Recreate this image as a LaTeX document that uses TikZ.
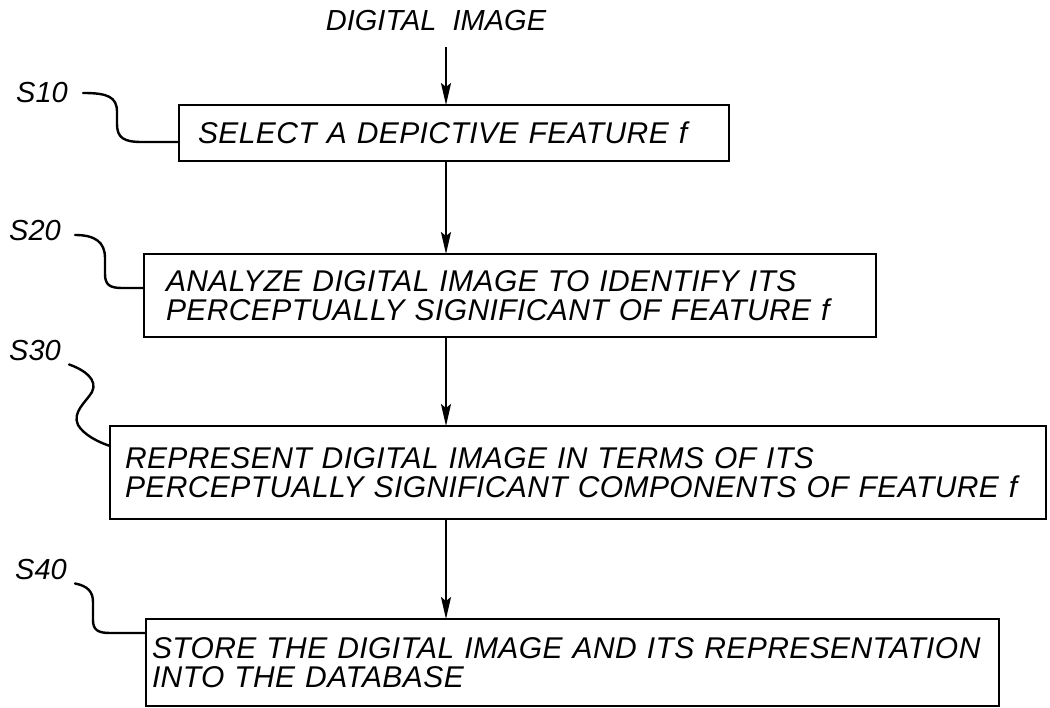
\documentclass[tikz,border=0pt]{standalone}
\usepackage{fontspec}
\setmainfont{Liberation Sans}[WordSpace=2]
\usetikzlibrary{arrows.meta,calc}

\tikzset{
  stepbox/.style={draw, line width=2.2pt, anchor=north west, outer sep=0pt,
    align=left, inner ysep=0pt,
    font={\fontsize{30}{29}\selectfont\itshape\addfontfeatures{LetterSpace=1.4}}},
  tag/.style={inner sep=0pt, font=\itshape\fontsize{29}{29}\selectfont},
  flow/.style={line width=2pt, -{Stealth[length=22pt,width=10pt,inset=4pt]}},
  lead/.style={line width=2.4pt, line cap=round}
}

\begin{document}
\begin{tikzpicture}[x=1pt,y=-1pt]
    \useasboundingbox (0,0) rectangle (1050,708);

    % Input
    \node[tag] (img) at (436,21) {DIGITAL IMAGE};

    % Steps
    \node[stepbox, inner xsep=19pt, text width=512pt, minimum height=56pt] (s10) at (179,105)
        {SELECT A DEPICTIVE FEATURE f};
    \node[stepbox, inner xsep=22pt, text width=688pt, minimum height=83pt] (s20) at (144,254)
        {ANALYZE DIGITAL IMAGE TO IDENTIFY ITS\\PERCEPTUALLY SIGNIFICANT OF FEATURE f};
    \node[stepbox, inner xsep=15pt, text width=906pt, minimum height=93pt] (s30) at (110,426)
        {REPRESENT DIGITAL IMAGE IN TERMS OF ITS\\PERCEPTUALLY SIGNIFICANT COMPONENTS OF FEATURE f};
    \node[stepbox, inner xsep=6pt, text width=841pt, minimum height=87pt] (s40) at (146,619)
        {STORE THE DIGITAL IMAGE AND ITS REPRESENTATION\\INTO THE DATABASE};

    % Step labels
    \node[tag] (l10) at (42,93) {S10};
    \node[tag] (l20) at (35,231) {S20};
    \node[tag] (l30) at (35,351) {S30};
    \node[tag] (l40) at (41,570) {S40};

    % Flow
    \coordinate (spine) at (446,0);
    \draw[flow] ($(img.south -| spine)+(0,16)$) -- (s10.north -| spine);
    \draw[flow] (s10.south -| spine) -- (s20.north -| spine);
    \draw[flow] (s20.south -| spine) -- (s30.north -| spine);
    \draw[flow] (s30.south -| spine) -- (s40.north -| spine);

    % Leaders
    \draw[lead] ([xshift=15pt]l10.east) .. controls (108,93) and (117,97) .. (117,112) -- (117,124)
        .. controls (117,138) and (124,142) .. (142,142) -- ([yshift=-9pt]s10.west);
    \draw[lead] ([xshift=14pt,yshift=-4pt]l20.east) .. controls (95,235) and (105,242) .. (105,258) -- (105,274)
        .. controls (105,285) and (110,288) .. (122,288) -- ([yshift=7.5pt]s20.west);
    \draw[lead] ([xshift=8pt,yshift=-3pt]l30.south east) .. controls (85,370) and (98,380) .. (92,392)
        .. controls (86,402) and (72,412) .. (78,425) .. controls (84,435) and (98,442) .. ([yshift=26.5pt]s30.west);
    \draw[lead] ([xshift=8pt,yshift=-3pt]l40.south east) .. controls (88,586) and (93,592) .. (93,602) -- (93,620)
        .. controls (93,630) and (98,633) .. (110,633) -- ([yshift=29.5pt]s40.west);
\end{tikzpicture}
\end{document}
